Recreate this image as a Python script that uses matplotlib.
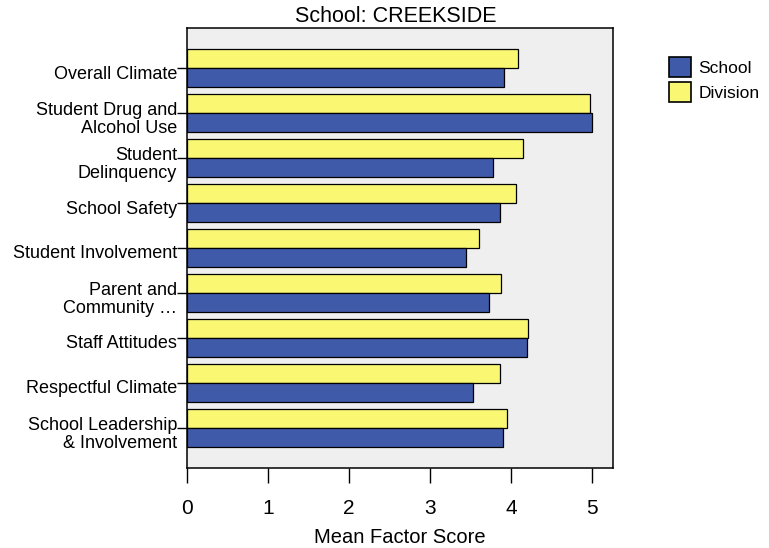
# Horizontal bar chart of mean factor scores, school vs division

import matplotlib.pyplot as plt
import matplotlib.transforms as mtransforms
from matplotlib.patches import Patch

plt.rcParams['font.family'] = ['Liberation Sans', 'DejaVu Sans']

### Data ###

school_name = 'CREEKSIDE'
factors = ['Overall Climate', 'Student Drug and\nAlcohol Use', 'Student\nDelinquency',
           'School Safety', 'Student Involvement', 'Parent and\nCommunity \u2026',
           'Staff Attitudes', 'Respectful Climate', 'School Leadership\n& Involvement']
school = [3.92, 5.00, 3.78, 3.87, 3.44, 3.73, 4.20, 3.53, 3.90]
division = [4.09, 4.98, 4.15, 4.06, 3.61, 3.88, 4.21, 3.86, 3.95]
xticks = [0, 1, 2, 3, 4, 5]

# Colours
blue = '#405aaa'
yellow = '#faf873'
panel = '#efefef'

#############

fig = plt.figure(figsize=(7.69, 5.48), dpi=100)
ax = fig.add_axes([187/769, 1 - 468/548, 426/769, 440/548])
ax.set_facecolor(panel)

pos = list(range(len(factors)))
h = 0.415
ax.barh([p - h/2 for p in pos], division, height=h, color=yellow,
        edgecolor='black', linewidth=0.9, label='Division')
ax.barh([p + h/2 for p in pos], school, height=h, color=blue,
        edgecolor='black', linewidth=0.9, label='School')

ax.set_xlim(0, 5.26)
ax.set_ylim(len(factors) - 1 + 0.89, -0.89)

ax.set_yticks(pos)
ax.set_yticklabels(factors, fontsize=13, linespacing=1.05)
ax.set_xticks(xticks)
ax.set_xticklabels([str(t) for t in xticks], fontsize=15)
ax.tick_params(axis='y', length=7.2, width=1, pad=0)
ax.tick_params(axis='x', length=10.5, width=1, pad=12)

# nudge the category labels a little down, like the original
shift = mtransforms.ScaledTranslation(0, -4/100, fig.dpi_scale_trans)
for lab in ax.get_yticklabels():
    lab.set_transform(lab.get_transform() + shift)

for sp in ax.spines.values():
    sp.set_linewidth(1.1)
    sp.set_color('black')

ax.set_xlabel('Mean Factor Score', fontsize=14.5, labelpad=7)
fig.text(396/769, 1 - 17/548, 'School: ' + school_name, fontsize=15.5,
         ha='center', va='center')

handles = [Patch(facecolor=blue, edgecolor='black', linewidth=1.2),
           Patch(facecolor=yellow, edgecolor='black', linewidth=1.2)]
fig.legend(handles, ['School', 'Division'], loc='upper left',
           bbox_to_anchor=(669/769, 1 - 57/548), frameon=False, fontsize=12.5,
           handlelength=1.25, handleheight=1.39, handletextpad=0.45,
           labelspacing=0.28, borderpad=0, borderaxespad=0)

fig.savefig('out.png', dpi=100)
